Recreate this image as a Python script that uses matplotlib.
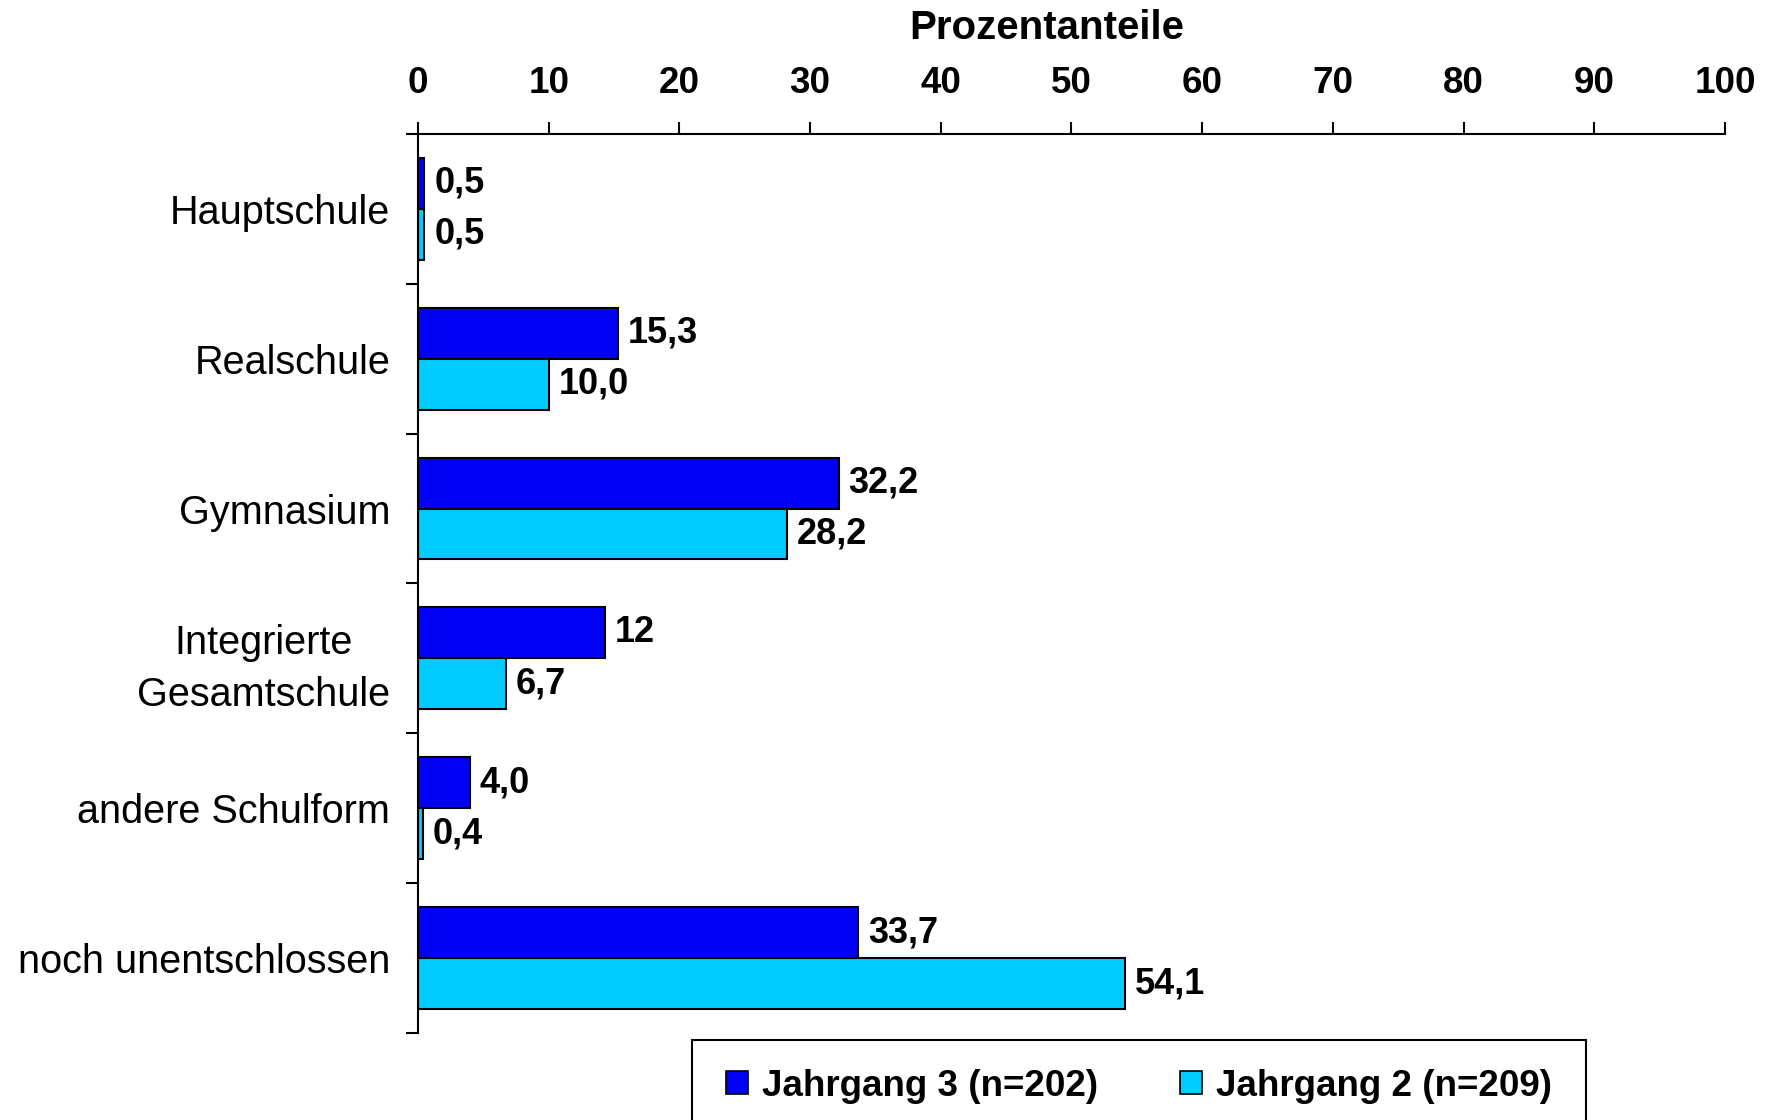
import matplotlib
matplotlib.use('Agg')
import matplotlib.pyplot as plt
from matplotlib.patches import Rectangle, Patch
import numpy as np

########### Data
categories = ["Hauptschule", "Realschule", "Gymnasium", "Integrierte\nGesamtschule",
              "andere Schulform", "noch unentschlossen"]
jahrgang3 = [0.5, 15.3, 32.2, 14.3, 4.0, 33.7]   # bar lengths as drawn
jahrgang2 = [0.5, 10.0, 28.2, 6.7, 0.4, 54.1]
labels3 = ["0,5", "15,3", "32,2", "12", "4,0", "33,7"]   # labels as printed
labels2 = ["0,5", "10,0", "28,2", "6,7", "0,4", "54,1"]
series_names = ["Jahrgang 3 (n=202)", "Jahrgang 2 (n=209)"]
xticks = list(range(0, 101, 10))

########### Style
COL3 = '#0000F5'
COL2 = '#00CCFF'
plt.rcParams['font.family'] = ['Liberation Sans', 'DejaVu Sans']

fig = plt.figure(figsize=(17.8, 11.2), dpi=100)
ax = fig.add_axes([0.2348, 0.0777, 0.9691 - 0.2348, 0.8804 - 0.0777])

y = np.arange(len(categories))
h = 0.34
ax.barh(y - h / 2, jahrgang3, height=h, color=COL3, edgecolor='black', linewidth=1.5)
ax.barh(y + h / 2, jahrgang2, height=h, color=COL2, edgecolor='black', linewidth=1.5)

# value labels next to the bars
for i in range(len(categories)):
    ax.annotate(labels3[i], (jahrgang3[i], y[i] - h / 2), xytext=(7, 0), textcoords='offset points',
                va='center', ha='left', fontsize=26, fontweight='bold')
    ax.annotate(labels2[i], (jahrgang2[i], y[i] + h / 2), xytext=(7, 0), textcoords='offset points',
                va='center', ha='left', fontsize=26, fontweight='bold')

ax.set_xlim(0, 100)
ax.set_ylim(len(categories) - 0.5, -0.5)

# x axis on top
ax.xaxis.tick_top()
ax.set_xticks(xticks)
ax.set_xticklabels([str(v) for v in xticks], fontsize=26.5, fontweight='bold')
ax.tick_params(axis='x', direction='out', length=9, width=1.5, pad=15)
fig.text(1047 / 1780, 1 - 28 / 1120, "Prozentanteile", fontsize=29, fontweight='bold',
         ha='center', va='center')

# category labels at centers, ticks at group boundaries
ax.set_yticks(y)
ax.set_yticklabels(categories, fontsize=28.5, multialignment='center', linespacing=1.45)
ax.tick_params(axis='y', which='major', length=0, pad=20)
ax.set_yticks(np.arange(-0.5, len(categories), 1.0), minor=True)
ax.tick_params(axis='y', which='minor', direction='out', length=9, width=1.5)
ax.get_yticklabels()[3].set_y(3 - 0.04)

for s in ['right', 'bottom']:
    ax.spines[s].set_visible(False)
for s in ['top', 'left']:
    ax.spines[s].set_linewidth(1.5)

# legend box running off the bottom
fig.patches.append(Rectangle((692 / 1780, -0.05), (1586 - 692) / 1780, 0.05 + (1120 - 1040) / 1120,
                             transform=fig.transFigure, facecolor='white', edgecolor='black',
                             linewidth=1.5, zorder=5))
handles = [Patch(facecolor=COL3, edgecolor='black', linewidth=1.2),
           Patch(facecolor=COL2, edgecolor='black', linewidth=1.2)]
leg = fig.legend(handles, series_names, loc='center', bbox_to_anchor=(1139 / 1780, 1 - 1086 / 1120),
                 ncol=2, frameon=False, prop={'size': 26.5, 'weight': 'bold'},
                 handlelength=0.6, handleheight=0.6, handletextpad=0.4, columnspacing=2.2)
leg.set_zorder(6)

fig.savefig('out.png', dpi=100)
